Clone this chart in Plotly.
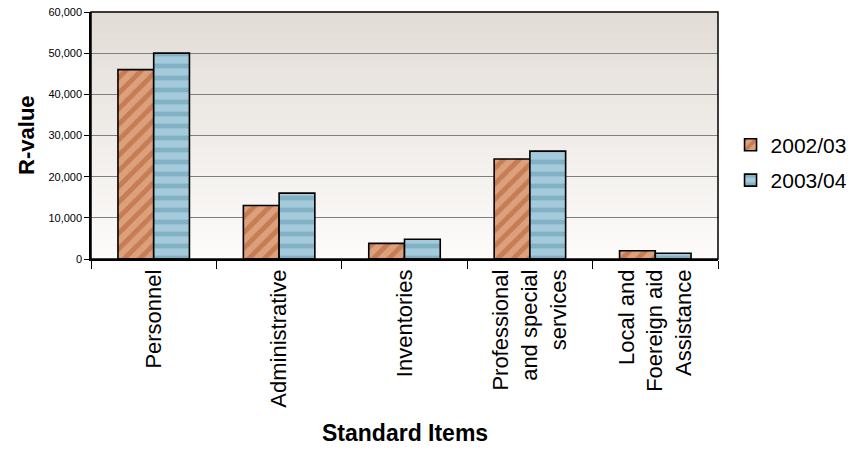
import plotly.graph_objects as go

# Spending per standard item, two financial years
categories = [
    "Personnel",
    "Administrative",
    "Inventories",
    "Professional<br>and special<br>services",
    "Local and<br>Foereign aid<br>Assistance",
]
values_2002 = [46000, 13000, 3800, 24300, 2000]
values_2003 = [50000, 16000, 4800, 26200, 1400]
series_names = ["2002/03", "2003/04"]
y_ticks = [0, 10000, 20000, 30000, 40000, 50000, 60000]

FONT = "Liberation Sans, Arial, sans-serif"

fig = go.Figure()
fig.add_trace(go.Bar(
    x=categories, y=values_2002, name=series_names[0], legendgroup="a",
    marker=dict(
        color="#d99a74",
        line=dict(color="black", width=1.6),
        pattern=dict(shape="/", fgcolor="#b05a2b", bgcolor="#dca07c",
                     size=11, solidity=0.45, fillmode="overlay"),
    ),
))
fig.add_trace(go.Bar(
    x=categories, y=values_2003, name=series_names[1], legendgroup="b",
    marker=dict(
        color="#a3c8d9",
        line=dict(color="black", width=1.6),
        pattern=dict(shape="-", fgcolor="#5f98ae", bgcolor="#a5cadb",
                     size=12, solidity=0.4, fillmode="overlay"),
    ),
))

# vertical gradient behind the plot area: warm grey at top fading to white
n_strips = 60
top_rgb = (226, 220, 214)
bot_rgb = (253, 252, 251)
shapes = []
for i in range(n_strips):
    t = i / (n_strips - 1)
    r = round(bot_rgb[0] + (top_rgb[0] - bot_rgb[0]) * t)
    g = round(bot_rgb[1] + (top_rgb[1] - bot_rgb[1]) * t)
    b = round(bot_rgb[2] + (top_rgb[2] - bot_rgb[2]) * t)
    shapes.append(dict(
        type="rect", xref="x domain", yref="y domain", layer="below",
        x0=0, x1=1, y0=i / n_strips, y1=(i + 1) / n_strips + 0.002,
        fillcolor=f"rgb({r},{g},{b})", line=dict(width=0),
    ))
# frame around the plot area
shapes.append(dict(type="rect", xref="x domain", yref="y domain", layer="above",
                   x0=0, x1=1, y0=0, y1=1, line=dict(color="black", width=1.5)))

fig.update_layout(
    width=851, height=450,
    margin=dict(l=91, r=133, t=12, b=191, autoexpand=False),
    paper_bgcolor="white",
    plot_bgcolor="rgba(0,0,0,0)",
    barmode="group",
    bargap=0.43,
    bargroupgap=0.0,
    font=dict(family=FONT, color="black"),
    shapes=shapes,
    showlegend=True,
    legend=dict(
        x=1.02, y=0.39, xanchor="left", yanchor="middle",
        font=dict(size=21, family=FONT),
        tracegroupgap=5,
        itemwidth=30,
        bgcolor="rgba(0,0,0,0)",
    ),
    annotations=[
        dict(text="<b>R-value</b>", xref="paper", yref="paper",
             x=-0.103, y=0.5, xanchor="center", yanchor="middle",
             textangle=-90, showarrow=False, font=dict(size=22, family=FONT)),
        dict(text="<b>Standard Items</b>", xref="paper", yref="paper",
             x=0.5, y=-0.705, xanchor="center", yanchor="middle",
             showarrow=False, font=dict(size=23, family=FONT)),
    ],
)

fig.update_xaxes(
    automargin=False,
    tickangle=-90,
    tickfont=dict(size=22, family=FONT),
    ticks="outside", ticklen=8, tickcolor="black",
    tickson="boundaries",
    showline=True, linecolor="black", linewidth=1.5,
    showgrid=False,
)
fig.update_yaxes(
    automargin=False,
    range=[0, 60000],
    tickvals=y_ticks,
    tickformat=",d",
    tickfont=dict(size=11, family=FONT),
    ticks="outside", ticklen=5, tickcolor="black",
    showline=True, linecolor="black", linewidth=1.5,
    showgrid=True, gridcolor="#7f7f7f", gridwidth=1,
    zeroline=False,
)

fig.write_html("out.html")
